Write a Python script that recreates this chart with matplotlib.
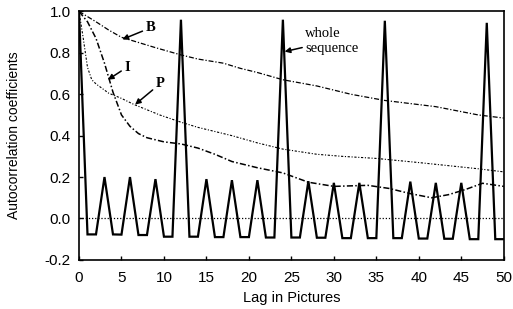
import matplotlib
matplotlib.use("Agg")
import matplotlib.pyplot as plt
from matplotlib.ticker import FormatStrFormatter

plt.rcParams['font.family'] = ['Liberation Sans', 'DejaVu Sans']

# Whole sequence autocorrelation at integer lags 0..50
whole_lags = list(range(51))
whole_vals = [1.0,
              -0.077, -0.077, 0.20, -0.077, -0.078, 0.20, -0.08, -0.08, 0.19,
              -0.088, -0.088, 0.96, -0.088, -0.088, 0.19, -0.09, -0.09, 0.185,
              -0.09, -0.09, 0.185, -0.092, -0.092, 0.96, -0.092, -0.092, 0.18,
              -0.093, -0.093, 0.172, -0.095, -0.095, 0.172, -0.095, -0.095, 0.955,
              -0.095, -0.095, 0.178, -0.097, -0.097, 0.172, -0.098, -0.098, 0.172,
              -0.1, -0.1, 0.945, -0.1, -0.1]

# B pictures
b_lags = [0, 2, 3.5, 5, 7, 9, 12, 14, 17, 19, 21, 24, 28, 32, 36, 42, 47, 50]
b_vals = [1.0, 0.95, 0.91, 0.875, 0.85, 0.825, 0.79, 0.77, 0.75, 0.725, 0.705,
          0.67, 0.64, 0.60, 0.57, 0.54, 0.50, 0.485]

# P pictures
p_lags = [0, 0.5, 1, 1.5, 2, 3.5, 5, 6.5, 9.5, 12, 14, 18, 21, 24, 28, 31, 35, 40, 47, 50]
p_vals = [1.0, 0.87, 0.73, 0.67, 0.65, 0.605, 0.58, 0.55, 0.50, 0.465, 0.44,
          0.40, 0.365, 0.335, 0.31, 0.30, 0.29, 0.27, 0.24, 0.225]

# I pictures
i_lags = [0, 1, 2, 3, 4, 5, 6, 7, 8, 10, 12, 14, 16, 18, 21, 24, 27, 30,
          34, 36.5, 39, 41.5, 43.5, 45.5, 47.5, 50]
i_vals = [1.0, 0.95, 0.87, 0.75, 0.61, 0.50, 0.445, 0.41, 0.39, 0.37, 0.36,
          0.34, 0.31, 0.275, 0.245, 0.22, 0.175, 0.155, 0.16, 0.145, 0.12,
          0.10, 0.115, 0.14, 0.17, 0.155]

x_ticks = list(range(0, 51, 5))
y_ticks = [-0.2, 0.0, 0.2, 0.4, 0.6, 0.8, 1.0]

fig = plt.figure(figsize=(5.13, 3.09), dpi=100)
ax = fig.add_axes([0.154, 0.159, 0.828, 0.804])

ax.axhline(0, color='black', lw=0.9, ls=(0, (1, 1.5)))
ax.plot(whole_lags, whole_vals, color='black', lw=1.6, solid_joinstyle='miter')
ax.plot(b_lags, b_vals, color='black', lw=0.9, ls=(0, (4, 1.5, 1, 1.5)))
ax.plot(p_lags, p_vals, color='black', lw=0.8, ls=(0, (2, 1.5, 1, 1.5)))
ax.plot(i_lags, i_vals, color='black', lw=1.1, ls=(0, (4, 1.5, 1, 1.5)))

ax.set_xlim(0, 50)
ax.set_ylim(-0.2, 1.0)
ax.set_xticks(x_ticks)
ax.set_yticks(y_ticks)
ax.yaxis.set_major_formatter(FormatStrFormatter('%.1f'))
ax.tick_params(direction='in', length=3, width=1, labelsize=11, colors='black')
ax.tick_params(axis='x', pad=8)
ax.tick_params(axis='y', pad=6)
for s in ax.spines.values():
    s.set_linewidth(1.2)
    s.set_color('black')

ax.set_xlabel('Lag in Pictures', fontsize=10.5, va='center')
ax.xaxis.set_label_coords(0.5, -0.153)
ax.set_ylabel('Autocorrelation coefficients', fontsize=10, va='center')
ax.yaxis.set_label_coords(-0.153, 0.5)

serif = dict(family=['Liberation Serif', 'DejaVu Serif'], fontsize=10.5, color='black')
ap = dict(arrowstyle='-|>', color='black', lw=1.1, mutation_scale=8, shrinkA=0, shrinkB=0)

ax.annotate('B', xy=(5.1, 0.865), xytext=(7.8, 0.92), fontweight='bold',
            va='center', ha='left', arrowprops=ap, **serif)
ax.annotate('I', xy=(3.4, 0.67), xytext=(5.3, 0.73), fontweight='bold',
            va='center', ha='left', arrowprops=ap, **serif)
ax.annotate('P', xy=(6.6, 0.55), xytext=(9.0, 0.65), fontweight='bold',
            va='center', ha='left', arrowprops=ap, **serif)
ax.annotate('whole\nsequence', xy=(24.2, 0.806), xytext=(26.6, 0.858),
            va='center', ha='left', linespacing=1.25, arrowprops=ap, **serif)

fig.savefig('out.png', dpi=100)
